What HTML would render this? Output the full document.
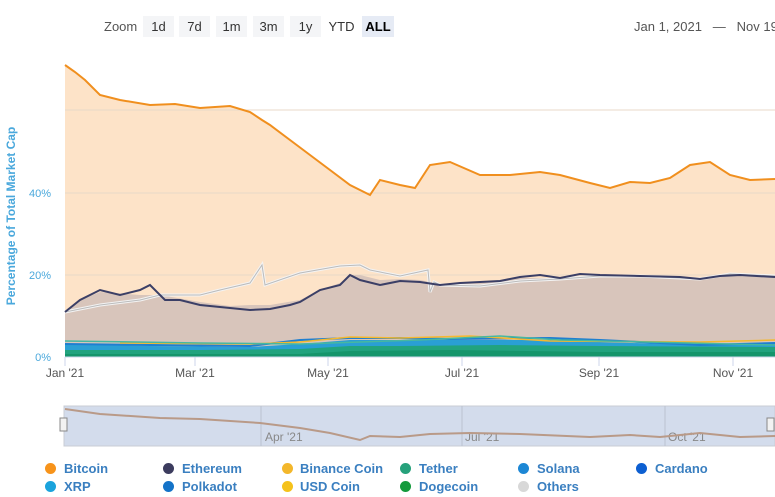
<!DOCTYPE html>
<html><head><meta charset="utf-8"><style>
body{margin:0;background:#fff;width:775px;height:497px;overflow:hidden;font-family:"Liberation Sans",sans-serif;position:relative}
.btn{position:absolute;top:16px;height:21px;line-height:21px;font-size:13px;color:#333;background:#f4f5f7;text-align:center}
.lg{position:absolute;font-size:13px;font-weight:bold;color:#3a7fc0}
.dot{position:absolute;width:11px;height:11px;border-radius:50%}
</style></head><body>
<div style="position:absolute;left:104px;top:16px;line-height:21px;font-size:13px;color:#555">Zoom</div>
<div class="btn" style="left:143px;width:31px">1d</div>
<div class="btn" style="left:179px;width:31px">7d</div>
<div class="btn" style="left:216px;width:31px">1m</div>
<div class="btn" style="left:253px;width:31px">3m</div>
<div class="btn" style="left:290px;width:31px">1y</div>
<div class="btn" style="left:326px;width:31px;background:#fff">YTD</div>
<div class="btn" style="left:362px;width:32px;background:#e6ebf5;font-weight:bold;color:#000">ALL</div>
<div style="position:absolute;left:634px;top:16px;width:141px;overflow:hidden;line-height:21px;font-size:13px;color:#555;white-space:nowrap">Jan 1, 2021 &nbsp;&nbsp;—&nbsp;&nbsp; Nov 19, 2021</div>
<svg width="775" height="497" style="position:absolute;left:0;top:0" xmlns="http://www.w3.org/2000/svg">
<text transform="translate(15,216) rotate(-90)" text-anchor="middle" font-size="12" font-weight="bold" fill="#4aa8dc" font-family="Liberation Sans">Percentage of Total Market Cap</text>
<g font-size="11" fill="#4aa8dc" text-anchor="end" font-family="Liberation Sans">
<text x="51" y="197">40%</text><text x="51" y="279">20%</text><text x="51" y="361">0%</text></g>
<path d="M65,357 L65,65 L75,72 L85,80 L100,95 L120,100 L150,105 L175,104 L200,108 L230,106 L250,112 L262,120 L270,125 L290,140 L310,155 L330,170 L350,185 L370,195 L380,180 L400,185 L415,188 L430,165 L450,162 L480,175 L510,175 L540,172 L560,175 L590,183 L610,188 L630,182 L650,183 L670,178 L690,165 L710,162 L730,175 L750,180 L775,179 L775,357 Z" fill="#fde3c8"/>
<g stroke="#e8d8c8" stroke-width="1"><line x1="65" y1="110" x2="775" y2="110"/><line x1="65" y1="193" x2="775" y2="193"/><line x1="65" y1="275" x2="775" y2="275"/></g>
<path d="M65,357 L65,312 L80,300 L100,292 L140,295 L160,295 L200,302 L230,306 L250,305 L270,305 L300,300 L320,290 L340,283 L350,275 L360,275 L380,280 L400,279 L420,280 L440,284 L480,283 L520,278 L560,278 L600,275 L640,276 L680,277 L700,279 L730,275 L775,276 L775,357 Z" fill="#d8c5bb"/>
<path d="M65,312 L100,305 L140,300 L160,295 L200,295 L220,290 L250,283 L262,265 L265,285 L300,273 L340,266 L360,265 L370,270 L400,276 L428,270 L430,292 L434,282 L440,285 L480,286 L520,281 L560,279 L600,276 L640,276 L700,279 L730,274 L775,276" fill="none" stroke="#f3f3f3" stroke-width="3"/>
<path d="M65,312 L100,305 L140,300 L160,295 L200,295 L220,290 L250,283 L262,265 L265,285 L300,273 L340,266 L360,265 L370,270 L400,276 L428,270 L430,292 L434,282 L440,285 L480,286 L520,281 L560,279 L600,276 L640,276 L700,279 L730,274 L775,276" fill="none" stroke="#bbb" stroke-width="1"/>
<path d="M65,312 L80,300 L100,290 L120,295 L140,290 L150,285 L165,300 L180,300 L200,305 L230,308 L250,310 L270,309 L290,305 L300,302 L320,290 L340,285 L350,275 L360,280 L380,285 L400,281 L420,282 L440,285 L460,283 L480,282 L500,281 L520,277 L540,275 L560,278 L580,274 L600,275 L640,276 L680,277 L700,279 L720,276 L740,275 L775,277" fill="none" stroke="#3b3f66" stroke-width="2"/>
<path d="M65,357 L65,344 L150,346 L250,347 L300,344 L350,340 L400,340 L450,340 L500,340 L550,340 L600,342 L700,345 L775,344 L775,357 Z" fill="#2a9fd4"/>
<path d="M65,357 L65,350 L200,350 L300,349 L350,346 L400,346 L500,345 L600,346 L775,347 L775,357 Z" fill="#21a37e"/>
<path d="M65,357 L65,354 L300,354 L350,351 L450,350 L600,352 L775,352 L775,357 Z" fill="#15956b"/>
<path d="M65,344 L150,345 L250,346 L300,340 L350,338 L400,338 L450,339 L550,338 L600,340 L700,345 L775,343" fill="none" stroke="#1f7fd0" stroke-width="2"/>
<path d="M120,343 L250,344 L300,342 L350,337 L400,338 L470,336 L550,341 L700,342 L775,340" fill="none" stroke="#f5b82e" stroke-width="1.5"/>
<path d="M65,341 L200,343 L300,344 L420,340 L500,336 L560,340 L775,345" fill="none" stroke="#46b8a0" stroke-width="1.5"/>
<path d="M65,65 L75,72 L85,80 L100,95 L120,100 L150,105 L175,104 L200,108 L230,106 L250,112 L262,120 L270,125 L290,140 L310,155 L330,170 L350,185 L370,195 L380,180 L400,185 L415,188 L430,165 L450,162 L480,175 L510,175 L540,172 L560,175 L590,183 L610,188 L630,182 L650,183 L670,178 L690,165 L710,162 L730,175 L750,180 L775,179" fill="none" stroke="#f08f1e" stroke-width="2"/>
<line x1="65" y1="357" x2="775" y2="357" stroke="#ccd6eb"/>
<g stroke="#ccd6eb"><line x1="65" y1="357" x2="65" y2="366"/><line x1="195" y1="357" x2="195" y2="366"/><line x1="328" y1="357" x2="328" y2="366"/><line x1="462" y1="357" x2="462" y2="366"/><line x1="599" y1="357" x2="599" y2="366"/><line x1="733" y1="357" x2="733" y2="366"/></g>
<g font-size="12" fill="#555" text-anchor="middle" font-family="Liberation Sans">
<text x="65" y="377">Jan '21</text><text x="195" y="377">Mar '21</text><text x="328" y="377">May '21</text><text x="462" y="377">Jul '21</text><text x="599" y="377">Sep '21</text><text x="733" y="377">Nov '21</text></g>
<rect x="64" y="406" width="711" height="40" fill="#d3dcec" stroke="#c8ccd4"/>
<g stroke="#bbc2cf"><line x1="261" y1="406" x2="261" y2="446"/><line x1="462" y1="406" x2="462" y2="446"/><line x1="665" y1="406" x2="665" y2="446"/></g>
<g font-size="12" fill="#888" font-family="Liberation Sans"><text x="265" y="441">Apr '21</text><text x="465" y="441">Jul '21</text><text x="668" y="441">Oct '21</text></g>
<path d="M65,409 L100,414 L160,418 L200,419 L260,423 L300,428 L330,433 L360,440 L370,436 L400,437 L430,434 L470,433 L520,434 L590,437 L630,435 L660,437 L700,433 L740,437 L775,436" fill="none" stroke="#b99a88" stroke-width="2"/>
<rect x="60" y="418" width="7" height="13" fill="#f2f2f2" stroke="#888"/>
<rect x="767" y="418" width="7" height="13" fill="#f2f2f2" stroke="#888"/>
</svg>
<div class="dot" style="left:45px;top:463px;background:#f7931a"></div><div class="lg" style="left:64px;top:461px">Bitcoin</div>
<div class="dot" style="left:163px;top:463px;background:#3c3c5e"></div><div class="lg" style="left:182px;top:461px">Ethereum</div>
<div class="dot" style="left:282px;top:463px;background:#f3b72b"></div><div class="lg" style="left:300px;top:461px">Binance Coin</div>
<div class="dot" style="left:400px;top:463px;background:#26a17b"></div><div class="lg" style="left:419px;top:461px">Tether</div>
<div class="dot" style="left:518px;top:463px;background:#1c87d5"></div><div class="lg" style="left:537px;top:461px">Solana</div>
<div class="dot" style="left:636px;top:463px;background:#0d5fd1"></div><div class="lg" style="left:655px;top:461px">Cardano</div>
<div class="dot" style="left:45px;top:481px;background:#1ba3dc"></div><div class="lg" style="left:64px;top:479px">XRP</div>
<div class="dot" style="left:163px;top:481px;background:#1473c8"></div><div class="lg" style="left:182px;top:479px">Polkadot</div>
<div class="dot" style="left:282px;top:481px;background:#f5c21b"></div><div class="lg" style="left:300px;top:479px">USD Coin</div>
<div class="dot" style="left:400px;top:481px;background:#139a3c"></div><div class="lg" style="left:419px;top:479px">Dogecoin</div>
<div class="dot" style="left:518px;top:481px;background:#d8d8d8"></div><div class="lg" style="left:537px;top:479px">Others</div>
</body></html>
